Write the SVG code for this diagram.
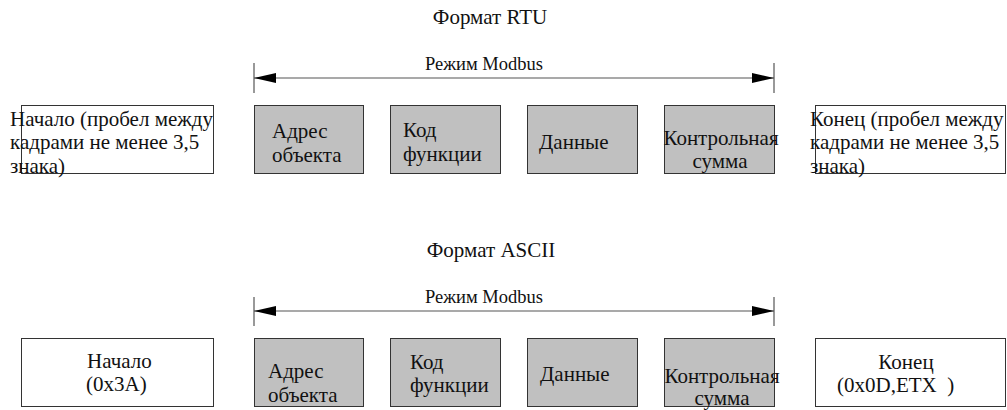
<svg xmlns="http://www.w3.org/2000/svg" width="1007" height="410" viewBox="0 0 1007 410">
<style>
text{font-family:'Liberation Serif','Times New Roman',serif;fill:#111;}
.t{font-size:21px;}
.m{font-size:18.5px;}
.b{font-size:21px;}
.w{fill:#fff;stroke:#333;stroke-width:1;}
.g{fill:#c0c0c0;stroke:#333;stroke-width:1;}
.ln{stroke:#555;stroke-width:1.2;fill:none;}
.ah{fill:#000;}
</style>
<defs>
<marker id="arr" viewBox="0 0 22 10" refX="22" refY="5" markerWidth="22" markerHeight="10" markerUnits="userSpaceOnUse" orient="auto-start-reverse">
<path class="ah" d="M0,0 L22,5 L0,10 Z"/>
</marker>
</defs>

<text id="title-rtu" class="t" x="490" y="24" text-anchor="middle">Формат RTU</text>
<text id="title-ascii" class="t" x="491" y="257" text-anchor="middle">Формат ASCII</text>

<g id="connectors">
<line class="ln" x1="254" y1="63" x2="254" y2="93"/>
<line class="ln" x1="774" y1="63" x2="774" y2="93"/>
<line class="ln" x1="254" y1="78" x2="774" y2="78" marker-start="url(#arr)" marker-end="url(#arr)"/>
<text class="m" x="425" y="70">Режим Modbus</text>
<line class="ln" x1="254" y1="297" x2="254" y2="326"/>
<line class="ln" x1="774" y1="297" x2="774" y2="326"/>
<line class="ln" x1="254" y1="311" x2="774" y2="311" marker-start="url(#arr)" marker-end="url(#arr)"/>
<text class="m" x="425" y="303">Режим Modbus</text>
</g>

<g id="rtu-start">
<rect class="w" x="21.5" y="105.5" width="192" height="68"/>
<text class="b" x="10" y="126">Начало (пробел между</text>
<text class="b" x="10" y="149">кадрами не менее 3,5</text>
<text class="b" x="10" y="173">знака)</text>
</g>
<g id="rtu-addr">
<rect class="g" x="254.5" y="105.5" width="109" height="68"/>
<text class="b" x="272" y="138">Адрес</text>
<text class="b" x="272" y="162">объекта</text>
</g>
<g id="rtu-func">
<rect class="g" x="390.5" y="105.5" width="110" height="68"/>
<text class="b" x="403" y="137">Код</text>
<text class="b" x="403" y="161">функции</text>
</g>
<g id="rtu-data">
<rect class="g" x="527.5" y="105.5" width="110" height="68"/>
<text class="b" x="539" y="149">Данные</text>
</g>
<g id="rtu-crc">
<rect class="g" x="664.5" y="105.5" width="110" height="68"/>
<text class="b" x="721" y="145" text-anchor="middle">Контрольная</text>
<text class="b" x="720" y="168" text-anchor="middle">сумма</text>
</g>
<g id="rtu-end">
<rect class="w" x="815.5" y="105.5" width="190" height="68"/>
<text class="b" x="810" y="126">Конец (пробел между</text>
<text class="b" x="810" y="149">кадрами не менее 3,5</text>
<text class="b" x="810" y="173">знака)</text>
</g>

<g id="ascii-start">
<rect class="w" x="21.5" y="338.5" width="192" height="68"/>
<text class="b" x="87" y="368">Начало</text>
<text class="b" x="86" y="391">(0x3A)</text>
</g>
<g id="ascii-addr">
<rect class="g" x="254.5" y="338.5" width="109" height="68"/>
<text class="b" x="268" y="378">Адрес</text>
<text class="b" x="268" y="402">объекта</text>
</g>
<g id="ascii-func">
<rect class="g" x="390.5" y="338.5" width="110" height="68"/>
<text class="b" x="410" y="369">Код</text>
<text class="b" x="410" y="392">функции</text>
</g>
<g id="ascii-data">
<rect class="g" x="527.5" y="338.5" width="110" height="68"/>
<text class="b" x="540" y="381">Данные</text>
</g>
<g id="ascii-crc">
<rect class="g" x="664.5" y="338.5" width="110" height="68"/>
<text class="b" x="722" y="383" text-anchor="middle">Контрольная</text>
<text class="b" x="722" y="405" text-anchor="middle">сумма</text>
</g>
<g id="ascii-end">
<rect class="w" x="815.5" y="338.5" width="190" height="68"/>
<text class="b" x="906" y="369" text-anchor="middle">Конец</text>
<text class="b" x="837" y="392" xml:space="preserve">(0x0D,ETX  )</text>
</g>
</svg>
